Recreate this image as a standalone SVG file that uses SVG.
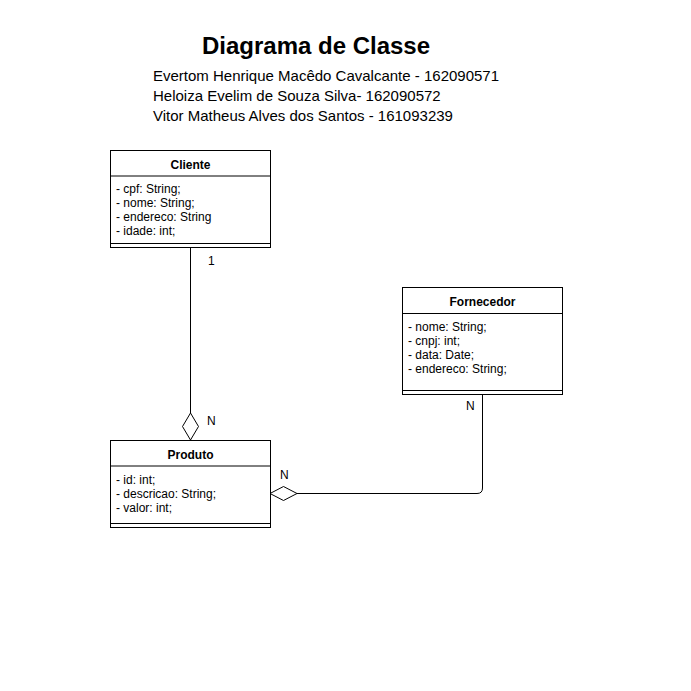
<svg xmlns="http://www.w3.org/2000/svg" width="691" height="691" viewBox="0 0 691 691">
<style>
.box{fill:#fff;stroke:#000;stroke-width:1}
.ln{fill:none;stroke:#000;stroke-width:1}
.t{font-family:"Liberation Sans",Arial,sans-serif;font-size:12px;fill:#000}
.h{font-family:"Liberation Sans",Arial,sans-serif;font-size:12px;font-weight:bold;fill:#000;text-anchor:middle}
.sub{font-family:"Liberation Sans",Arial,sans-serif;font-size:15px;fill:#000}
</style>
<rect width="691" height="691" fill="#fff"/>
<g id="title">
<text x="316" y="54" text-anchor="middle" style="font-family:'Liberation Sans',Arial,sans-serif;font-size:24px;font-weight:bold">Diagrama de Classe</text>
<text class="sub" x="153" y="81">Evertom Henrique Macêdo Cavalcante - 162090571</text>
<text class="sub" x="153" y="101">Heloiza Evelim de Souza Silva- 162090572</text>
<text class="sub" x="153" y="121">Vitor Matheus Alves dos Santos - 161093239</text>
</g>
<g id="connectors">
<path class="ln" d="M190.5 248 V413"/>
<path class="ln" d="M190.5 413 L198.5 426.5 L190.5 440 L182.5 426.5 Z"/>
<path class="ln" d="M482.5 395 V488 Q482.5 493.5 477 493.5 H297"/>
<path class="ln" d="M270 493.5 L283.5 486.5 L297 493.5 L283.5 500.5 Z"/>
<text class="t" x="208" y="265">1</text>
<text class="t" x="207" y="425">N</text>
<text class="t" x="280" y="479">N</text>
<text class="t" x="466" y="410">N</text>
</g>
<g id="cliente">
<rect class="box" x="110.5" y="150.5" width="160" height="97"/>
<line class="ln" x1="110.5" y1="176" x2="270.5" y2="176"/>
<line class="ln" x1="110.5" y1="243.5" x2="270.5" y2="243.5"/>
<text class="h" x="190.5" y="169">Cliente</text>
<text class="t" x="116" y="193">- cpf: String;</text>
<text class="t" x="116" y="207">- nome: String;</text>
<text class="t" x="116" y="221">- endereco: String</text>
<text class="t" x="116" y="235">- idade: int;</text>
</g>
<g id="produto">
<rect class="box" x="110.5" y="440.5" width="160" height="87"/>
<line class="ln" x1="110.5" y1="466" x2="270.5" y2="466"/>
<line class="ln" x1="110.5" y1="523.5" x2="270.5" y2="523.5"/>
<text class="h" x="190.5" y="459">Produto</text>
<text class="t" x="116" y="484">- id: int;</text>
<text class="t" x="116" y="498">- descricao: String;</text>
<text class="t" x="116" y="512">- valor: int;</text>
</g>
<g id="fornecedor">
<rect class="box" x="402.5" y="287.5" width="160" height="107"/>
<line class="ln" x1="402.5" y1="313.5" x2="562.5" y2="313.5"/>
<line class="ln" x1="402.5" y1="390.5" x2="562.5" y2="390.5"/>
<text class="h" x="482.5" y="306">Fornecedor</text>
<text class="t" x="408" y="331">- nome: String;</text>
<text class="t" x="408" y="345">- cnpj: int;</text>
<text class="t" x="408" y="359">- data: Date;</text>
<text class="t" x="408" y="373">- endereco: String;</text>
</g>
</svg>
